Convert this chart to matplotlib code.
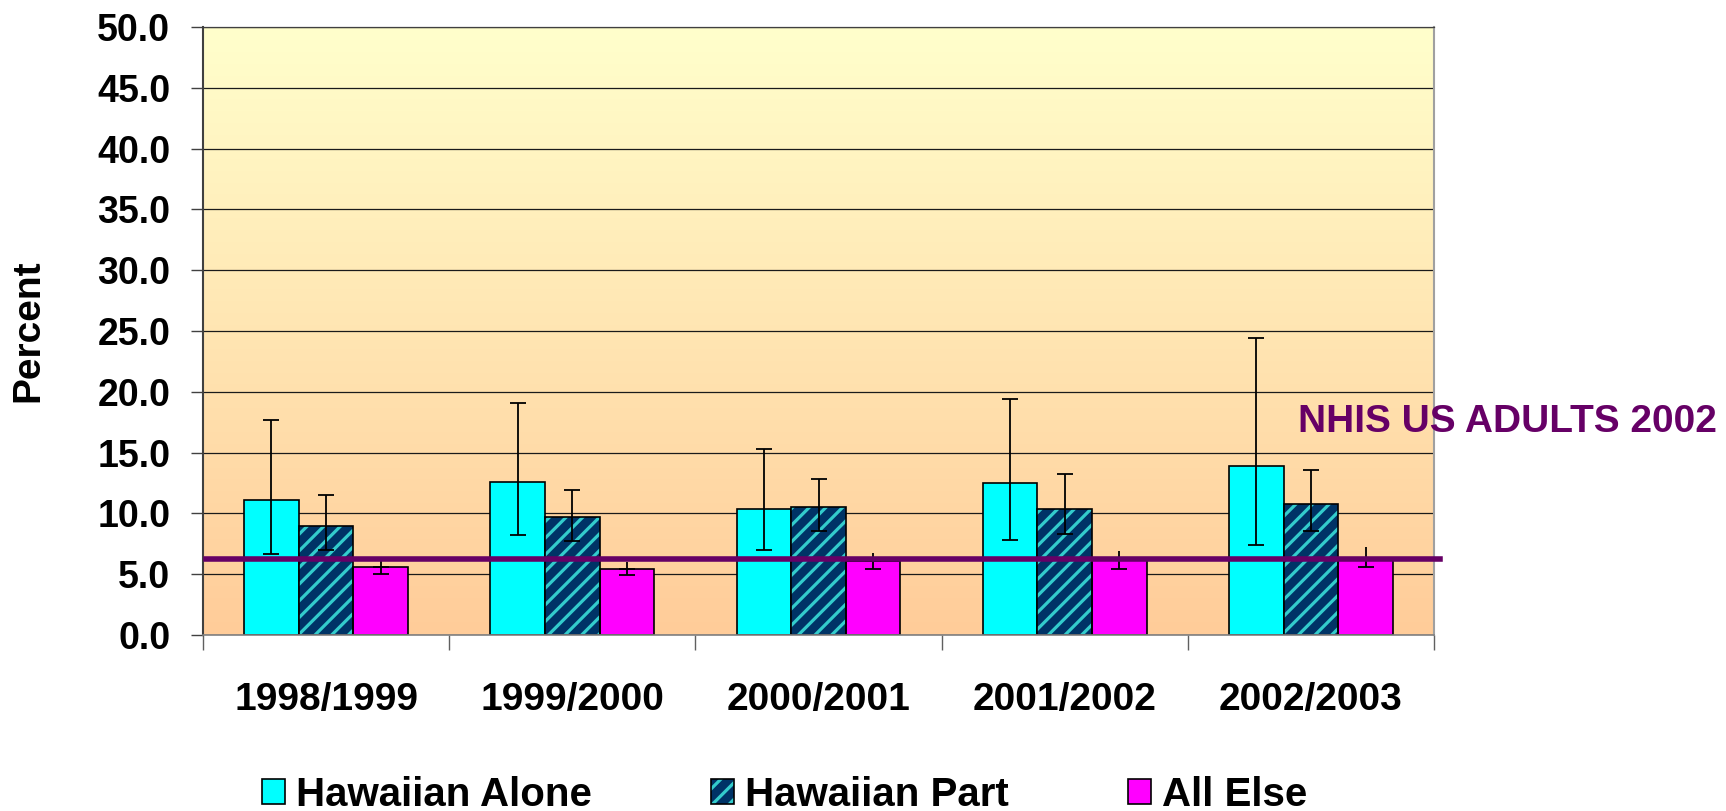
import numpy as np
import matplotlib
matplotlib.use("Agg")
import matplotlib.pyplot as plt
from matplotlib.legend_handler import HandlerTuple
from matplotlib.patches import Rectangle

plt.rcParams['font.family'] = ['Liberation Sans', 'DejaVu Sans']
plt.rcParams['font.weight'] = 'bold'
plt.rcParams['hatch.linewidth'] = 2.3

# data
categories = ['1998/1999', '1999/2000', '2000/2001', '2001/2002', '2002/2003']
alone = np.array([11.1, 12.6, 10.4, 12.5, 13.9])
alone_lo = np.array([6.7, 8.2, 7.0, 7.85, 7.4])
alone_hi = np.array([17.7, 19.1, 15.3, 19.4, 24.4])
part = np.array([9.0, 9.7, 10.5, 10.4, 10.8])
part_lo = np.array([7.0, 7.7, 8.55, 8.3, 8.55])
part_hi = np.array([11.5, 11.95, 12.8, 13.2, 13.6])
rest = np.array([5.6, 5.45, 6.1, 6.2, 6.3])
rest_lo = np.array([5.0, 4.9, 5.45, 5.45, 5.6])
rest_hi = np.array([6.2, 6.0, 6.75, 6.9, 7.2])
nhis = 6.25
series_names = ['Hawaiian Alone', 'Hawaiian Part', 'All Else']

cyan = '#00FFFF'
navy = '#003366'
teal = '#33CCCC'
magenta = '#FF00FF'
purple = '#660066'

fig = plt.figure(figsize=(17.26, 8.11), dpi=100)
ax = fig.add_axes([203/1726, 1 - 635/811, 1231/1726, 608/811])

x = np.arange(len(categories))
w = 0.222

# gradient background of plot area
grad = np.linspace(0, 1, 256).reshape(-1, 1)
top = np.array([1.0, 1.0, 0.8])
bot = np.array([1.0, 0.8, 0.6])
img = top[None, None, :] * (1 - grad[:, :, None]) + bot[None, None, :] * grad[:, :, None]
ax.imshow(img, extent=[-0.5, 4.5, 0, 50], aspect='auto', zorder=0)

ax.set_axisbelow(True)
ax.yaxis.grid(True, color='#1a1a1a', linewidth=0.9)

b1 = ax.bar(x - w, alone, w, color=cyan, edgecolor='black', linewidth=1.2, zorder=2)
b2 = ax.bar(x, part, w, color=navy, edgecolor=teal, hatch='//', linewidth=0, zorder=2)
b2e = ax.bar(x, part, w, fill=False, edgecolor='black', linewidth=1.2, zorder=2.1)
b3 = ax.bar(x + w, rest, w, color=magenta, edgecolor='black', linewidth=1.2, zorder=2)

for xs, v, lo, hi in [(x - w, alone, alone_lo, alone_hi),
                      (x, part, part_lo, part_hi)]:
    ax.errorbar(xs, v, yerr=[v - lo, hi - v], fmt='none', ecolor='black',
                elinewidth=1.3, capsize=6, capthick=1.3, zorder=3)
# all else: lower end capped, upper end just a stub
ax.errorbar(x + w, rest, yerr=[rest - rest_lo, np.zeros_like(rest)], fmt='none',
            ecolor='black', elinewidth=1.3, capsize=6, capthick=1.3, zorder=3)
ax.errorbar(x + w, rest, yerr=[np.zeros_like(rest), rest_hi - rest], fmt='none',
            ecolor='black', elinewidth=1.3, capsize=0, zorder=3)

ax.axhline(nhis, xmin=0.0025, xmax=1.005, color=purple, linewidth=4,
           clip_on=False, zorder=4)
fig.text(1298/1726, 1 - 422/811, 'NHIS US ADULTS 2002', color=purple,
         fontsize=28, fontweight='bold', ha='left', va='center')

ax.set_xlim(-0.5, 4.5)
ax.set_ylim(0, 50)
ax.set_yticks(np.arange(0, 50.1, 5))
ax.set_yticklabels([f'{v:.1f}' for v in np.arange(0, 50.1, 5)])
ax.tick_params(axis='y', direction='out', length=8.6, width=1, color='#404040',
               labelsize=27, pad=15)
ax.set_xticks(x)
ax.set_xticklabels(categories)
ax.set_xticks(np.arange(-0.5, 4.6, 1), minor=True)
ax.tick_params(axis='x', which='major', length=0, labelsize=28, pad=34)
ax.tick_params(axis='x', which='minor', direction='out', length=11, width=1,
               color='#606060')
for lab in ax.get_xticklabels() + ax.get_yticklabels():
    lab.set_fontweight('bold')

ax.spines['left'].set_color('#404040')
ax.spines['left'].set_linewidth(1.5)
ax.spines['bottom'].set_color('#808080')
ax.spines['bottom'].set_linewidth(1.2)
ax.spines['right'].set_color('#a0a0a0')
ax.spines['right'].set_linewidth(1.5)
ax.spines['top'].set_color('#404040')
ax.spines['top'].set_linewidth(0.9)

fig.text(28/1726, 1 - 331/811, 'Percent', rotation=90, fontsize=28,
         fontweight='bold', ha='center', va='center')

# legend
h1 = Rectangle((0, 0), 1, 1, facecolor=cyan, edgecolor='black', linewidth=1.2)
h2a = Rectangle((0, 0), 1, 1, facecolor=navy, edgecolor=teal, hatch='//', linewidth=0)
h2b = Rectangle((0, 0), 1, 1, fill=False, edgecolor='black', linewidth=1.2)
h3 = Rectangle((0, 0), 1, 1, facecolor=magenta, edgecolor='black', linewidth=1.2)
fig.legend([h1, (h2a, h2b), h3], series_names, ncol=3, frameon=False,
           loc='center left', bbox_to_anchor=(262/1726, 1 - 795/811),
           borderpad=0, borderaxespad=0,
           prop={'weight': 'bold', 'size': 29},
           handlelength=0.57, handleheight=0.57, handletextpad=0.28,
           columnspacing=2.95,
           handler_map={tuple: HandlerTuple(ndivide=1)})

fig.savefig('out.png', dpi=100)
